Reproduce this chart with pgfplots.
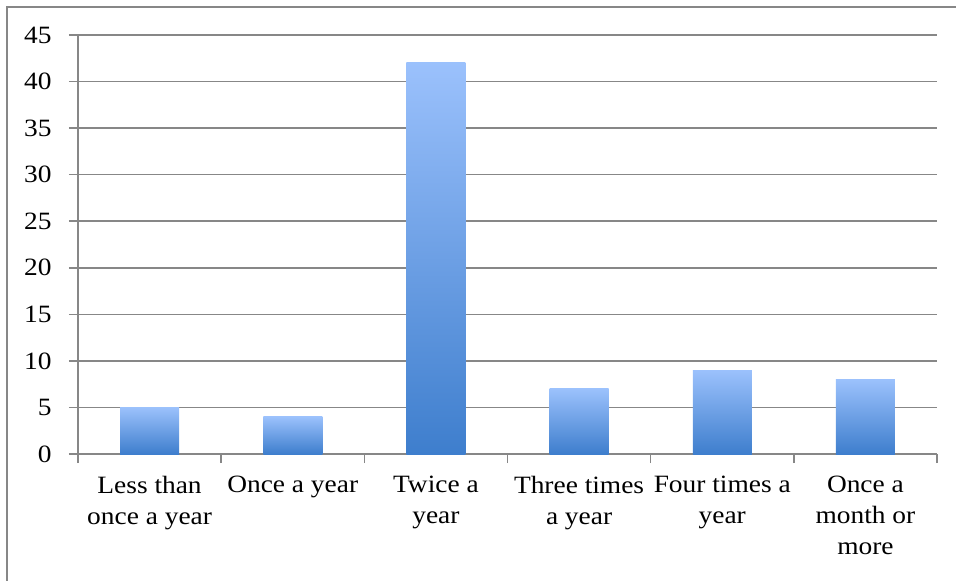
\documentclass[border=0pt]{standalone}
\usepackage{fontspec}
\setmainfont{Liberation Serif}[FakeStretch=1.1]
\usepackage{pgfplots}
\pgfplotsset{compat=1.18}

\definecolor{gridgray}{HTML}{878787}
\definecolor{bartop}{HTML}{9BC1FC}
\definecolor{barbot}{HTML}{3E7ECD}

\begin{document}
\fontsize{25}{31}\selectfont
\begin{tikzpicture}
  % page = 956 x 581, axis box starts at (78,127) from the lower left
  \useasboundingbox (-78bp,-127bp) rectangle (878bp,454bp);
  \draw[gridgray, line width=1.5bp] (-71bp,-140bp) -- (-71bp,447bp) -- (890bp,447bp);
  \begin{axis}[
    at={(0,0)}, anchor=south west,
    scale only axis,
    width=859bp, height=419bp,
    xmin=-0.5, xmax=5.5,
    ymin=0, ymax=45,
    axis lines*=left,
    axis line style={gridgray, line width=1.5bp},
    ymajorgrids,
    grid style={gridgray, line width=1.5bp},
    tick align=outside,
    major tick length=9bp,
    tick style={gridgray, line width=1.5bp},
    ytick={0,5,...,45},
    xtick={-0.5,0.5,...,5.5},
    xticklabels={},
    extra x ticks={0,1,2,3,4,5},
    extra x tick labels={{Less than\\once a year}, {Once a year}, {Twice a\\year},
      {Three times\\a year}, {Four times a\\year}, {Once a\\month or\\more}},
    extra x tick style={major tick length=0pt, grid=none,
      xticklabel style={align=center, yshift=-14bp,
        font=\fontsize{25}{31}\selectfont}},
    yticklabel style={xshift=-9bp, font=\fontsize{25}{31}\selectfont},
    /pgf/number format/assume math mode=true,
    ybar, bar width=59bp, bar shift=0pt,
    every axis plot/.append style={draw=none, top color=bartop, bottom color=barbot},
  ]
    % one plot per bar, so each bar gets its own gradient
    \addplot coordinates {(0,5)};
    \addplot coordinates {(1,4)};
    \addplot coordinates {(2,42)};
    \addplot coordinates {(3,7)};
    \addplot coordinates {(4,9)};
    \addplot coordinates {(5,8)};
  \end{axis}
\end{tikzpicture}
\end{document}
